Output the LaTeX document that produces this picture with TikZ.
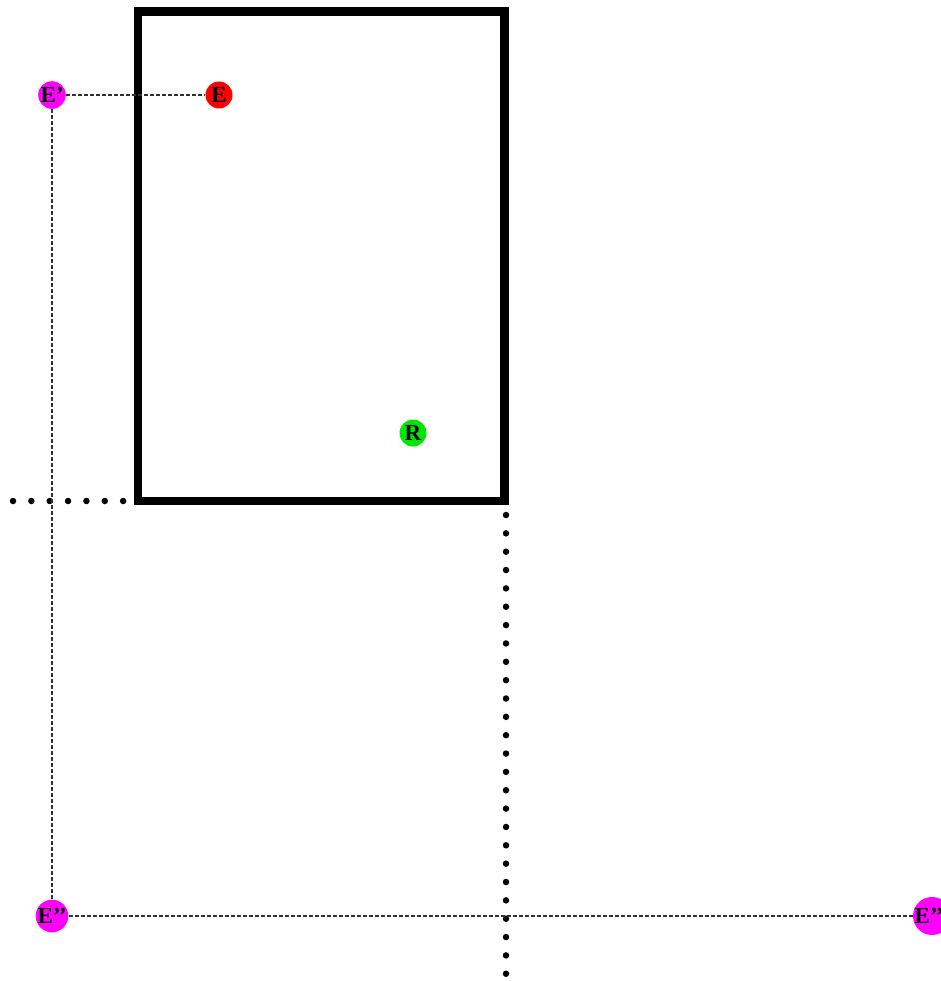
\documentclass[tikz,border=0pt]{standalone}
\usepackage{fontspec}
\setmainfont{Liberation Serif}
\definecolor{ptmag}{RGB}{255,0,255}
\definecolor{ptred}{RGB}{255,0,0}
\definecolor{ptgreen}{RGB}{0,230,0}
\definecolor{guide}{RGB}{50,50,50}
\begin{document}
\begin{tikzpicture}[x=1pt,y=-1pt,
  pt/.style={circle,inner sep=0pt,minimum size=27pt,font=\fontsize{23}{23}\selectfont\bfseries,text=black},
  guideline/.style={draw=guide,line width=1.3pt,dash pattern=on 4pt off 2pt},
  bigdots/.style={draw=black,line width=6.5pt,line cap=round,dash pattern=on 0pt off 18.35pt},
  frame/.style={draw=black,line width=8.5pt}]
\useasboundingbox (0,0) rectangle (940,981);
\coordinate (h1) at (13,501);
\coordinate (h2) at (128,501);
\coordinate (v1) at (506,515);
\coordinate (v2) at (506,980);
\draw[bigdots] (h1) -- (h2);
\draw[bigdots] (v1) -- (v2);
\draw[frame] (138,11.5) rectangle (504.5,501);
\node[pt,fill=ptmag] (Ep) at (52,95) {E’};
\node[pt,fill=ptred] (E) at (219,95) {E};
\node[pt,fill=ptgreen] (R) at (413,433) {R};
\node[pt,fill=ptmag] (Epp) at (52,916) {E’’};
\node[pt,fill=ptmag] (Eppp) at (932,916) {E’’’};
\draw[guideline] (Ep) -- (E);
\draw[guideline] (Ep) -- (Epp);
\draw[guideline] (Epp) -- (Eppp);
\end{tikzpicture}
\end{document}
